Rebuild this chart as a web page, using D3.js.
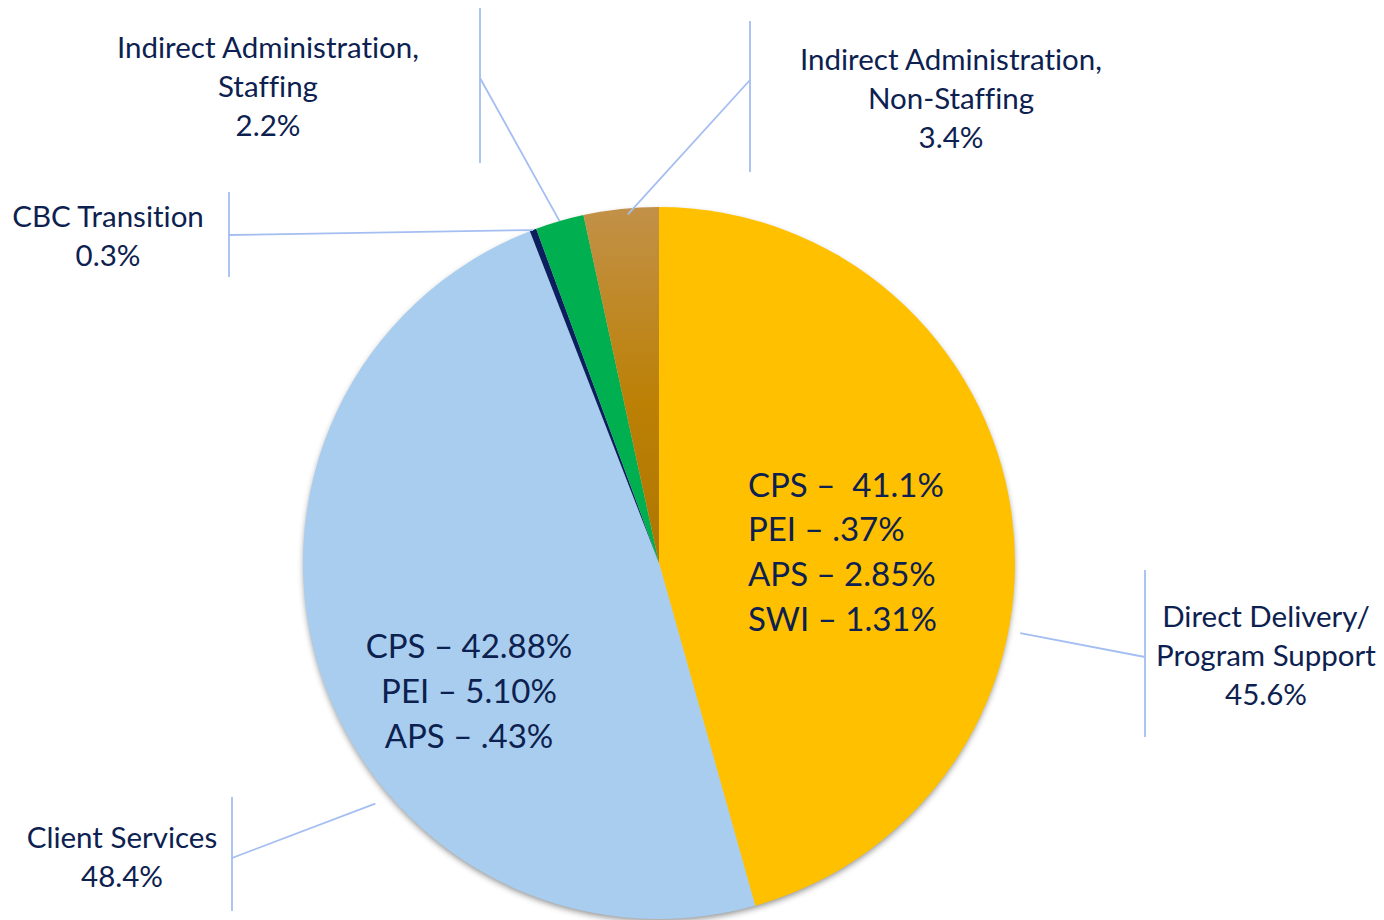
<!DOCTYPE html>
<html><head><meta charset="utf-8">
<script src="https://cdn.jsdelivr.net/npm/d3@7"></script>
<style>
html,body{margin:0;padding:0;background:#fff;}
svg text{font-family:Lato,"Open Sans",sans-serif;fill:#0D2150;white-space:pre;font-variant-ligatures:none;font-feature-settings:"liga" 0;}
</style></head>
<body>
<svg id="chart" width="1384" height="920"></svg>
<script>
// ---- data ----
const categories = ["Direct Delivery/\nProgram Support","Client Services","CBC Transition","Indirect Administration,\nStaffing","Indirect Administration,\nNon-Staffing"];
const values = [45.6, 48.4, 0.3, 2.2, 3.4];
const sliceColors = ["#FFC000","#A8CDEE","#0B1F5E","#00B050","url(#brownGrad)"];
const yellowDetail = ["CPS –  41.1%","PEI – .37%","APS – 2.85%","SWI – 1.31%"];
const blueDetail = ["CPS – 42.88%","PEI – 5.10%","APS – .43%"];

// ---- layout ----
const W=1384,H=920, cx=659, cy=563, R=356;
const labelLayout = [
  {x:1266, y:617, barX:1145, barY0:570, barY1:737, elbowY:657, anchor:[101,368]},
  {x:122,  y:838, barX:232,  barY0:797, barY1:911, elbowY:858, anchor:[229.7,372]},
  {x:108,  y:217, barX:229,  barY0:192, barY1:277, elbowY:235, anchor:null, r:356},
  {x:268,  y:48,  barX:480,  barY0:8,   barY1:163, elbowY:78,  anchor:null, r:356},
  {x:951,  y:60,  barX:750,  barY0:21,  barY1:172, elbowY:80,  anchor:[354.9,350]}
];
const lineGap = 39;

const svg = d3.select("#chart");
const defs = svg.append("defs");
const g1 = defs.append("linearGradient").attr("id","brownGrad").attr("x1",0).attr("y1",0).attr("x2",0).attr("y2",1);
g1.append("stop").attr("offset","0%").attr("stop-color","#C29149");
g1.append("stop").attr("offset","55%").attr("stop-color","#BC8005");
g1.append("stop").attr("offset","100%").attr("stop-color","#AE7600");
const f = defs.append("filter").attr("id","shadow").attr("x","-10%").attr("y","-10%").attr("width","120%").attr("height","120%");
f.append("feDropShadow").attr("dx",0).attr("dy",3).attr("stdDeviation",3).attr("flood-color","#000").attr("flood-opacity",0.45);

const pie = d3.pie().sort(null).value(d=>d);
const arcs = pie(values);
const arc = d3.arc().innerRadius(0).outerRadius(R);

const pg = svg.append("g").attr("transform",`translate(${cx},${cy})`);
pg.append("circle").attr("r",R-1).attr("fill","#ccc").attr("filter","url(#shadow)");
pg.selectAll("path.slice").data(arcs).join("path").attr("class","slice")
  .attr("d",arc).attr("fill",(d,i)=>sliceColors[i]);

// leader lines
const lc = "#A4BEF2";
const lg = svg.append("g").attr("stroke",lc).attr("stroke-width",1.8).attr("fill","none");
arcs.forEach((a,i)=>{
  const L = labelLayout[i];
  let ang, rr;
  if(L.anchor){ ang = L.anchor[0]*Math.PI/180; rr = L.anchor[1]; }
  else { ang = (a.startAngle+a.endAngle)/2; rr = L.r; }
  const px = cx + rr*Math.sin(ang), py = cy - rr*Math.cos(ang);
  lg.append("line").attr("x1",L.barX).attr("x2",L.barX).attr("y1",L.barY0).attr("y2",L.barY1);
  lg.append("line").attr("x1",L.barX).attr("y1",L.elbowY).attr("x2",px).attr("y2",py);
});

// outer labels
const fmt = d3.format(".1f");
arcs.forEach((a,i)=>{
  const L = labelLayout[i];
  const lines = categories[i].split("\n").concat([fmt(values[i])+"%"]);
  const t = svg.append("text").attr("text-anchor","middle").attr("font-size",29.5);
  lines.forEach((s,k)=>t.append("tspan").attr("x",L.x).attr("y",L.y+k*lineGap).attr("dy","0.35em").text(s));
});

// inner labels
const t1 = svg.append("text").attr("font-size",33);
yellowDetail.forEach((s,k)=>t1.append("tspan").attr("x",748).attr("y",485+k*44.7).attr("dy","0.35em").text(s));
const t2 = svg.append("text").attr("font-size",33).attr("text-anchor","middle");
blueDetail.forEach((s,k)=>t2.append("tspan").attr("x",469).attr("y",646+k*45).attr("dy","0.35em").text(s));
</script>
</body></html>
